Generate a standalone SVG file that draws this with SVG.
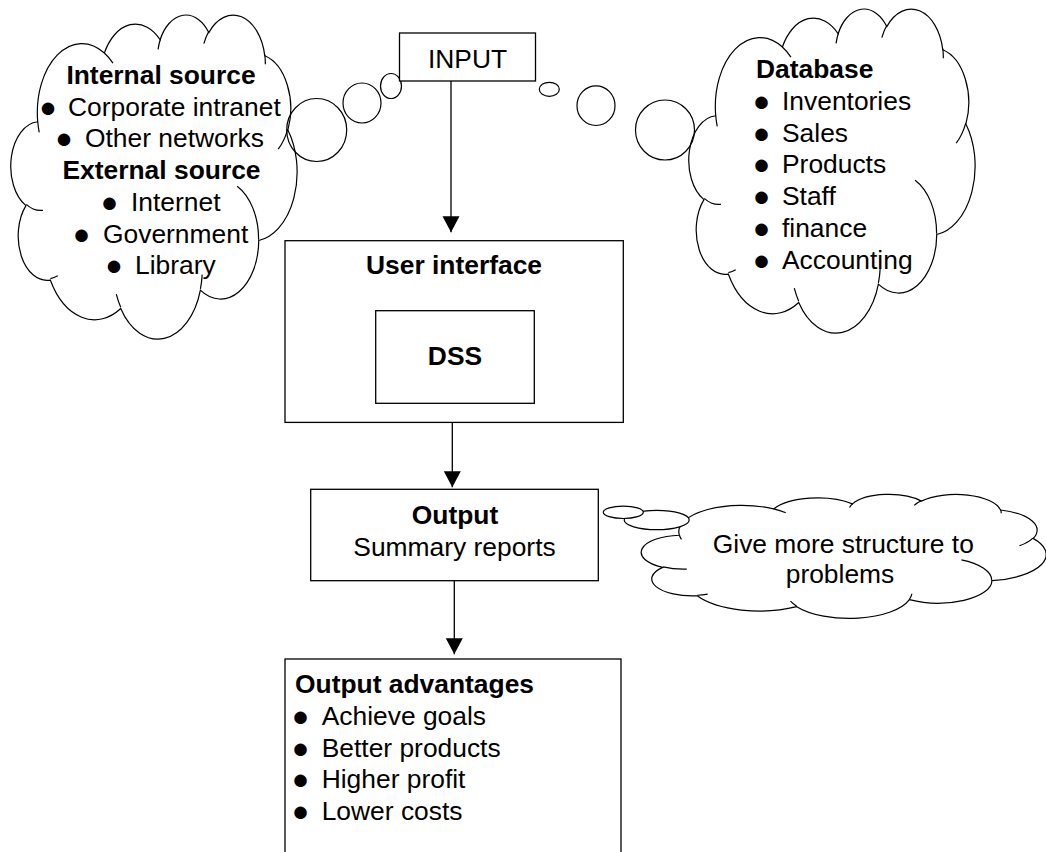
<svg xmlns="http://www.w3.org/2000/svg" xmlns:xlink="http://www.w3.org/1999/xlink" width="1046" height="852" viewBox="0 0 1046 852">
<style>
  text { font-family: "Liberation Sans", Arial, sans-serif; font-size: 26.4px; fill: #000; }
  .b { font-weight: bold; }
  .m { text-anchor: middle; }
  .bu { font-size: 29px; text-anchor: middle; }
  .box { fill: #fff; stroke: #000; stroke-width: 1.3; }
  .cb { fill: #fff; stroke: #000; stroke-width: 1.2; vector-effect: non-scaling-stroke; }
  .ct { fill: none; stroke: #000; stroke-width: 1.2; vector-effect: non-scaling-stroke; }
  .bub { fill: none; stroke: #000; stroke-width: 1.2; }
  .bubw { fill: #fff; stroke: #000; stroke-width: 1.2; }
  .conn { stroke: #000; stroke-width: 1.3; fill: none; marker-end: url(#arrow); }
</style>
<defs>
  <marker id="arrow" markerUnits="userSpaceOnUse" markerWidth="18" markerHeight="18" refX="16" refY="8.5" orient="auto">
    <path d="M0,0 L16,8.5 L0,17 Z" fill="#000"/>
  </marker>
  <g id="cloud">
    <path class="cb" d="M3900,14370 A6753,9190 0 0 1 14005,5202 A5333,7267 0 0 1 22456,3430 A4365,5945 0 0 1 29834,2479 A4857,6595 0 0 1 38318,5575 A5333,7273 0 0 1 41819,15458 A6775,9220 0 0 1 37404,30200 A5785,7867 0 0 1 28555,36811 A6752,9215 0 0 1 16481,39265 A7720,10543 0 0 1 5806,35473 A4360,5918 0 0 1 2113,25553 A4345,5945 0 0 1 3900,14370 Z"/>
    <path class="ct" d="M4693,26177 A4345,5945 0 0 1 2160,25380 M6928,34899 A4360,5918 0 0 1 5820,35281 M16478,39090 A6752,9215 0 0 1 15809,37347 M28827,34751 A6752,9215 0 0 1 28561,36660 M34129,22954 A5785,7867 0 0 1 37380,30090 M41798,15354 A5333,7273 0 0 1 40350,18030 M38324,5426 A4857,6595 0 0 1 38401,6690 M29078,3952 A4857,6595 0 0 1 29820,2340 M22141,4720 A4365,5945 0 0 1 22500,3331 M14000,5192 A6753,9190 0 0 1 15300,6540 M4127,15789 A6753,9190 0 0 1 3900,14371"/>
  </g>
</defs>

<g id="sources-cloud">
  <use xlink:href="#cloud" href="#cloud" transform="translate(12,14) scale(0.0065972,0.0075)"/>
  <ellipse class="bub" cx="316.7" cy="130" rx="30" ry="31.5"/>
  <ellipse class="bub" cx="362" cy="103" rx="19" ry="20"/>
  <ellipse class="bub" cx="391" cy="86" rx="10.5" ry="12.5"/>
  <text class="b m" x="161" y="84">Internal source</text>
  <text><tspan class="bu" x="48" y="116.7">●</tspan><tspan x="68" y="115.7">Corporate intranet</tspan></text>
  <text><tspan class="bu" x="64" y="148.4">●</tspan><tspan x="85" y="147.4">Other networks</tspan></text>
  <text class="b m" x="161.5" y="179">External source</text>
  <text><tspan class="bu" x="109.5" y="211.8">●</tspan><tspan x="131" y="210.8">Internet</tspan></text>
  <text><tspan class="bu" x="81.5" y="243.5">●</tspan><tspan x="103" y="242.5">Government</tspan></text>
  <text><tspan class="bu" x="114" y="275.2">●</tspan><tspan x="135" y="274.2">Library</tspan></text>
</g>

<g id="database-cloud">
  <use xlink:href="#cloud" href="#cloud" transform="translate(690,8) scale(0.0065972,0.0075)"/>
  <ellipse class="bub" cx="665" cy="130" rx="29.5" ry="30"/>
  <ellipse class="bub" cx="596" cy="105.7" rx="19" ry="19.8"/>
  <ellipse class="bub" cx="549.3" cy="89.3" rx="10" ry="7"/>
  <text class="b" x="756" y="78.3">Database</text>
  <text><tspan class="bu" x="761.5" y="111">●</tspan><tspan x="782" y="110">Inventories</tspan></text>
  <text><tspan class="bu" x="761.5" y="142.7">●</tspan><tspan x="782" y="141.7">Sales</tspan></text>
  <text><tspan class="bu" x="761.5" y="174.4">●</tspan><tspan x="782" y="173.4">Products</tspan></text>
  <text><tspan class="bu" x="761.5" y="206">●</tspan><tspan x="782" y="205">Staff</tspan></text>
  <text><tspan class="bu" x="761.5" y="237.8">●</tspan><tspan x="782" y="236.8">finance</tspan></text>
  <text><tspan class="bu" x="761.5" y="269.5">●</tspan><tspan x="782" y="268.5">Accounting</tspan></text>
</g>

<g id="input">
  <rect class="box" x="399.5" y="33" width="136" height="48"/>
  <text class="m" x="467.5" y="68.3">INPUT</text>
</g>

<g id="user-interface">
  <rect class="box" x="285" y="240.7" width="338.3" height="181.7"/>
  <text class="b m" x="454" y="274">User interface</text>
</g>

<g id="dss">
  <rect class="box" x="375.7" y="310.7" width="158.6" height="92.6"/>
  <text class="b m" x="455" y="365">DSS</text>
</g>

<g id="output">
  <rect class="box" x="310.7" y="489.3" width="287.6" height="91.4"/>
  <text class="b m" x="455" y="524">Output</text>
  <text class="m" x="454.5" y="556">Summary reports</text>
</g>

<g id="structure-cloud">
  <use xlink:href="#cloud" href="#cloud" transform="translate(643,494) scale(0.0093287,0.0028704)"/>
  <ellipse class="bubw" cx="656.7" cy="520" rx="32.5" ry="9.7"/>
  <ellipse class="bubw" cx="623.3" cy="512.3" rx="20" ry="6.2"/>
  <text class="m" x="843.3" y="553.3">Give more structure to</text>
  <text class="m" x="840" y="583.3">problems</text>
</g>

<g id="output-advantages">
  <rect class="box" x="285" y="659" width="336" height="220"/>
  <text class="b" x="295" y="692.7">Output advantages</text>
  <text><tspan class="bu" x="300.5" y="726">●</tspan><tspan x="321.7" y="725">Achieve goals</tspan></text>
  <text><tspan class="bu" x="300.5" y="757.7">●</tspan><tspan x="321.7" y="756.7">Better products</tspan></text>
  <text><tspan class="bu" x="300.5" y="789.3">●</tspan><tspan x="321.7" y="788.3">Higher profit</tspan></text>
  <text><tspan class="bu" x="300.5" y="821">●</tspan><tspan x="321.7" y="820">Lower costs</tspan></text>
</g>

<g id="connectors">
  <path class="conn" d="M451,81 V232.3"/>
  <path class="conn" d="M452.3,422.4 V487.3"/>
  <path class="conn" d="M454.3,580.7 V654.3"/>
</g>
</svg>
